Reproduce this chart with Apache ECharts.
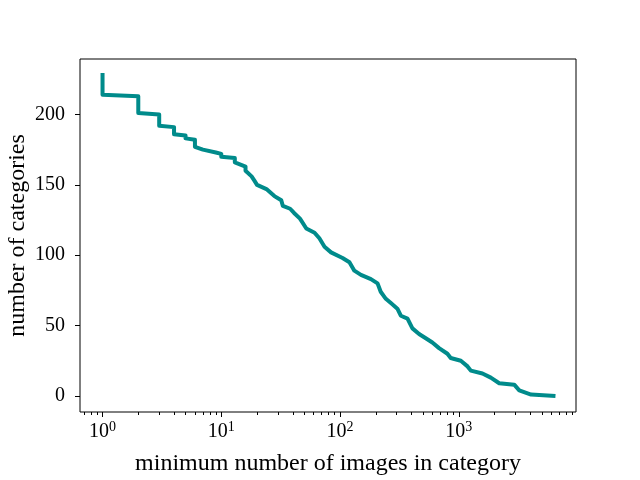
<!DOCTYPE html>
<html><head><meta charset="utf-8">
<script src="https://cdn.jsdelivr.net/npm/echarts@6/dist/echarts.min.js"></script>
<style>html,body{margin:0;padding:0;background:#fff}#c{width:640px;height:480px}</style>
</head><body><div id="c"></div>
<script>
// minimum number of images in category (x) vs number of categories (y)
const imageCounts = [1,1,2,2,3,3,4,4,5,5,6,6,7,7,9,10,10,13,13,16,16,18,19,20,24,28,32,33,38,41,46,52,61,67,74,84,105,120,132,150,182,207,220,243,268,304,325,370,407,463,527,599,682,802,855,1040,1185,1263,1582,1860,2190,2930,3230,4060,6270];
const categoryCounts = [228,214,213,201,200,192,191,186,185,183,182,177,175,174,173,172,170,169,166,163,160,156,153,150,147,142,139,135,133,130,126,119,116,112,106,102,98,95,89,86,83,80,74,69,66,62,57,55,48,44,41,38,34,30,27,25,21,18,16,13,9,8,4,1,0];
const xMajorTicks = [1,10,100,1000];
const xMinorTicks = [0.7,0.8,0.9,2,3,4,5,6,7,8,9,20,30,40,50,60,70,80,90,200,300,400,500,600,700,800,900,2000,3000,4000,5000,6000,7000,8000,9000];
const yTicks = [0,50,100,150,200];

const fam = '"Liberation Serif", serif';
const xMin = 0.646, xMax = 9705, yMin = -11.4, yMax = 239.4;
const chart = echarts.init(document.getElementById('c'), null, {renderer:'canvas'});
const data = imageCounts.map((x,i)=>[x, categoryCounts[i]]);
const gridBox = {left:80,right:64,top:59,bottom:68,outerBoundsMode:'none',containLabel:false};
chart.setOption({
  animation:false,
  grid:[
    Object.assign({show:true,borderColor:'#000',borderWidth:1,backgroundColor:'transparent'}, gridBox),
    Object.assign({show:false}, gridBox)
  ],
  xAxis:[{
    gridIndex:0,type:'log',logBase:10,min:xMin,max:xMax,position:'bottom',
    axisLine:{show:false,onZero:false},splitLine:{show:false},minorTick:{show:false},
    axisTick:{show:true,length:5,inside:false,lineStyle:{color:'#000',width:1},customValues:xMajorTicks},
    axisLabel:{customValues:xMajorTicks,margin:10,color:'#000',
      formatter:v=>'{b|10}{s|'+Math.round(Math.log10(v))+'}',
      rich:{b:{fontSize:20,fontFamily:fam,color:'#000',lineHeight:20,verticalAlign:'bottom'},
            s:{fontSize:14,fontFamily:fam,color:'#000',lineHeight:14,verticalAlign:'bottom',padding:[0,0,8,0]}}},
    name:'minimum number of images in category',nameLocation:'middle',nameGap:40,nameMoveOverlap:false,
    nameTextStyle:{fontSize:24,fontFamily:fam,color:'#000'}
  },{
    gridIndex:1,type:'log',logBase:10,min:xMin,max:xMax,position:'bottom',
    axisLine:{show:false,onZero:false},splitLine:{show:false},axisLabel:{show:false},
    axisTick:{show:true,length:3,inside:false,lineStyle:{color:'#000',width:1},customValues:xMinorTicks}
  }],
  yAxis:[{
    gridIndex:0,type:'value',min:yMin,max:yMax,
    axisLine:{show:false,onZero:false},splitLine:{show:false},
    axisTick:{show:true,length:5,inside:false,lineStyle:{color:'#000',width:1},customValues:yTicks},
    axisLabel:{customValues:yTicks,margin:15,color:'#000',fontSize:20,fontFamily:fam},
    name:'number of categories',nameLocation:'middle',nameGap:50,nameMoveOverlap:false,
    nameTextStyle:{fontSize:24,fontFamily:fam,color:'#000'}
  },{
    gridIndex:1,type:'value',min:yMin,max:yMax,show:false
  }],
  series:[{
    type:'line',xAxisIndex:0,yAxisIndex:0,data:data,showSymbol:false,
    lineStyle:{color:'#008b8b',width:4,cap:'square',join:'round'}
  }]
});
</script></body></html>
